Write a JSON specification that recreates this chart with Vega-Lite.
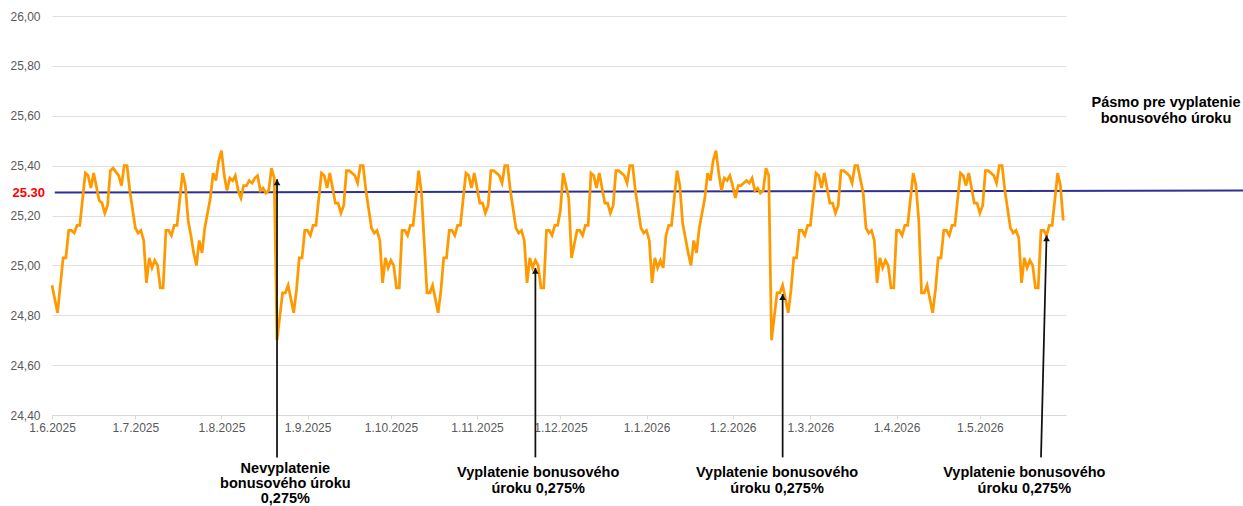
{
  "$schema": "https://vega.github.io/schema/vega-lite/v6.json",
  "width": 1014,
  "height": 399,
  "autosize": {"type": "none"},
  "padding": {"left": 52, "top": 16, "right": 177, "bottom": 91},
  "config": {
    "view": {"stroke": null},
    "locale": {"number": {"decimal": ",", "thousands": " ", "grouping": [3], "currency": ["", " €"]}}
  },
  "datasets": {
    "rate": [
      {"date": "2025-06-01", "value": 24.92}, {"date": "2025-06-03", "value": 24.81}, {"date": "2025-06-05", "value": 25.03}, {"date": "2025-06-06", "value": 25.03},
      {"date": "2025-06-07", "value": 25.14}, {"date": "2025-06-08", "value": 25.14}, {"date": "2025-06-09", "value": 25.13}, {"date": "2025-06-10", "value": 25.16},
      {"date": "2025-06-11", "value": 25.16}, {"date": "2025-06-13", "value": 25.37}, {"date": "2025-06-14", "value": 25.36}, {"date": "2025-06-15", "value": 25.31},
      {"date": "2025-06-16", "value": 25.37}, {"date": "2025-06-18", "value": 25.26}, {"date": "2025-06-19", "value": 25.25}, {"date": "2025-06-20", "value": 25.21},
      {"date": "2025-06-21", "value": 25.24}, {"date": "2025-06-22", "value": 25.38}, {"date": "2025-06-23", "value": 25.39}, {"date": "2025-06-25", "value": 25.36},
      {"date": "2025-06-26", "value": 25.32}, {"date": "2025-06-27", "value": 25.40}, {"date": "2025-06-28", "value": 25.40}, {"date": "2025-06-29", "value": 25.30},
      {"date": "2025-07-01", "value": 25.15}, {"date": "2025-07-02", "value": 25.13}, {"date": "2025-07-03", "value": 25.14}, {"date": "2025-07-04", "value": 25.10},
      {"date": "2025-07-05", "value": 24.93}, {"date": "2025-07-06", "value": 25.03}, {"date": "2025-07-07", "value": 24.99}, {"date": "2025-07-08", "value": 25.02},
      {"date": "2025-07-09", "value": 25.00}, {"date": "2025-07-10", "value": 24.91}, {"date": "2025-07-11", "value": 24.91}, {"date": "2025-07-12", "value": 25.14},
      {"date": "2025-07-13", "value": 25.14}, {"date": "2025-07-14", "value": 25.12}, {"date": "2025-07-15", "value": 25.16}, {"date": "2025-07-16", "value": 25.16},
      {"date": "2025-07-18", "value": 25.37}, {"date": "2025-07-19", "value": 25.32}, {"date": "2025-07-20", "value": 25.18}, {"date": "2025-07-21", "value": 25.12},
      {"date": "2025-07-22", "value": 25.05}, {"date": "2025-07-23", "value": 25.00}, {"date": "2025-07-24", "value": 25.10}, {"date": "2025-07-25", "value": 25.05},
      {"date": "2025-07-26", "value": 25.15}, {"date": "2025-07-28", "value": 25.27}, {"date": "2025-07-29", "value": 25.37}, {"date": "2025-07-30", "value": 25.34},
      {"date": "2025-07-31", "value": 25.42}, {"date": "2025-08-01", "value": 25.46}, {"date": "2025-08-02", "value": 25.36}, {"date": "2025-08-03", "value": 25.30},
      {"date": "2025-08-04", "value": 25.35}, {"date": "2025-08-05", "value": 25.34}, {"date": "2025-08-06", "value": 25.36}, {"date": "2025-08-07", "value": 25.30},
      {"date": "2025-08-08", "value": 25.27}, {"date": "2025-08-09", "value": 25.32}, {"date": "2025-08-10", "value": 25.32}, {"date": "2025-08-11", "value": 25.34},
      {"date": "2025-08-12", "value": 25.33}, {"date": "2025-08-13", "value": 25.35}, {"date": "2025-08-14", "value": 25.36}, {"date": "2025-08-15", "value": 25.30},
      {"date": "2025-08-16", "value": 25.31}, {"date": "2025-08-17", "value": 25.29}, {"date": "2025-08-18", "value": 25.30}, {"date": "2025-08-19", "value": 25.39},
      {"date": "2025-08-20", "value": 25.35}, {"date": "2025-08-21", "value": 24.70}, {"date": "2025-08-23", "value": 24.89}, {"date": "2025-08-24", "value": 24.89},
      {"date": "2025-08-25", "value": 24.92}, {"date": "2025-08-27", "value": 24.81}, {"date": "2025-08-28", "value": 24.90}, {"date": "2025-08-29", "value": 25.03},
      {"date": "2025-08-30", "value": 25.03}, {"date": "2025-08-31", "value": 25.14}, {"date": "2025-09-01", "value": 25.14}, {"date": "2025-09-02", "value": 25.12},
      {"date": "2025-09-03", "value": 25.16}, {"date": "2025-09-04", "value": 25.16}, {"date": "2025-09-06", "value": 25.37}, {"date": "2025-09-07", "value": 25.36},
      {"date": "2025-09-08", "value": 25.31}, {"date": "2025-09-09", "value": 25.37}, {"date": "2025-09-11", "value": 25.25}, {"date": "2025-09-12", "value": 25.25},
      {"date": "2025-09-13", "value": 25.21}, {"date": "2025-09-14", "value": 25.24}, {"date": "2025-09-15", "value": 25.38}, {"date": "2025-09-16", "value": 25.38},
      {"date": "2025-09-18", "value": 25.36}, {"date": "2025-09-19", "value": 25.33}, {"date": "2025-09-20", "value": 25.40}, {"date": "2025-09-21", "value": 25.40},
      {"date": "2025-09-22", "value": 25.30}, {"date": "2025-09-24", "value": 25.15}, {"date": "2025-09-25", "value": 25.13}, {"date": "2025-09-26", "value": 25.14},
      {"date": "2025-09-27", "value": 25.10}, {"date": "2025-09-28", "value": 24.93}, {"date": "2025-09-29", "value": 25.03}, {"date": "2025-09-30", "value": 24.99},
      {"date": "2025-10-01", "value": 25.02}, {"date": "2025-10-02", "value": 25.00}, {"date": "2025-10-03", "value": 24.91}, {"date": "2025-10-04", "value": 24.91},
      {"date": "2025-10-05", "value": 25.14}, {"date": "2025-10-06", "value": 25.14}, {"date": "2025-10-07", "value": 25.12}, {"date": "2025-10-08", "value": 25.16},
      {"date": "2025-10-09", "value": 25.16}, {"date": "2025-10-11", "value": 25.38}, {"date": "2025-10-12", "value": 25.29}, {"date": "2025-10-14", "value": 24.89},
      {"date": "2025-10-15", "value": 24.89}, {"date": "2025-10-16", "value": 24.92}, {"date": "2025-10-18", "value": 24.81}, {"date": "2025-10-19", "value": 24.90},
      {"date": "2025-10-20", "value": 25.03}, {"date": "2025-10-21", "value": 25.03}, {"date": "2025-10-22", "value": 25.14}, {"date": "2025-10-23", "value": 25.14},
      {"date": "2025-10-24", "value": 25.12}, {"date": "2025-10-25", "value": 25.16}, {"date": "2025-10-26", "value": 25.16}, {"date": "2025-10-28", "value": 25.37},
      {"date": "2025-10-29", "value": 25.36}, {"date": "2025-10-30", "value": 25.31}, {"date": "2025-10-31", "value": 25.37}, {"date": "2025-11-02", "value": 25.25},
      {"date": "2025-11-03", "value": 25.25}, {"date": "2025-11-04", "value": 25.21}, {"date": "2025-11-05", "value": 25.24}, {"date": "2025-11-06", "value": 25.38},
      {"date": "2025-11-07", "value": 25.38}, {"date": "2025-11-09", "value": 25.36}, {"date": "2025-11-10", "value": 25.33}, {"date": "2025-11-11", "value": 25.40},
      {"date": "2025-11-12", "value": 25.40}, {"date": "2025-11-13", "value": 25.30}, {"date": "2025-11-15", "value": 25.15}, {"date": "2025-11-16", "value": 25.13},
      {"date": "2025-11-17", "value": 25.14}, {"date": "2025-11-18", "value": 25.10}, {"date": "2025-11-19", "value": 24.93}, {"date": "2025-11-20", "value": 25.03},
      {"date": "2025-11-21", "value": 24.99}, {"date": "2025-11-22", "value": 25.02}, {"date": "2025-11-23", "value": 25.00}, {"date": "2025-11-24", "value": 24.91},
      {"date": "2025-11-25", "value": 24.91}, {"date": "2025-11-26", "value": 25.14}, {"date": "2025-11-27", "value": 25.14}, {"date": "2025-11-28", "value": 25.12},
      {"date": "2025-11-29", "value": 25.16}, {"date": "2025-11-30", "value": 25.16}, {"date": "2025-12-01", "value": 25.22}, {"date": "2025-12-02", "value": 25.37},
      {"date": "2025-12-04", "value": 25.27}, {"date": "2025-12-05", "value": 25.03}, {"date": "2025-12-07", "value": 25.14}, {"date": "2025-12-08", "value": 25.14},
      {"date": "2025-12-09", "value": 25.12}, {"date": "2025-12-10", "value": 25.16}, {"date": "2025-12-11", "value": 25.16}, {"date": "2025-12-12", "value": 25.37},
      {"date": "2025-12-13", "value": 25.36}, {"date": "2025-12-14", "value": 25.31}, {"date": "2025-12-15", "value": 25.37}, {"date": "2025-12-17", "value": 25.25},
      {"date": "2025-12-18", "value": 25.25}, {"date": "2025-12-19", "value": 25.21}, {"date": "2025-12-20", "value": 25.24}, {"date": "2025-12-21", "value": 25.38},
      {"date": "2025-12-22", "value": 25.38}, {"date": "2025-12-24", "value": 25.36}, {"date": "2025-12-25", "value": 25.33}, {"date": "2025-12-26", "value": 25.40},
      {"date": "2025-12-27", "value": 25.40}, {"date": "2025-12-28", "value": 25.30}, {"date": "2025-12-30", "value": 25.15}, {"date": "2025-12-31", "value": 25.13},
      {"date": "2026-01-01", "value": 25.14}, {"date": "2026-01-02", "value": 25.10}, {"date": "2026-01-03", "value": 24.93}, {"date": "2026-01-04", "value": 25.03},
      {"date": "2026-01-05", "value": 24.99}, {"date": "2026-01-06", "value": 25.02}, {"date": "2026-01-07", "value": 24.99}, {"date": "2026-01-08", "value": 25.12},
      {"date": "2026-01-09", "value": 25.16}, {"date": "2026-01-10", "value": 25.16}, {"date": "2026-01-12", "value": 25.38}, {"date": "2026-01-13", "value": 25.32},
      {"date": "2026-01-14", "value": 25.17}, {"date": "2026-01-16", "value": 25.05}, {"date": "2026-01-17", "value": 25.00}, {"date": "2026-01-18", "value": 25.10},
      {"date": "2026-01-19", "value": 25.05}, {"date": "2026-01-20", "value": 25.15}, {"date": "2026-01-22", "value": 25.27}, {"date": "2026-01-23", "value": 25.37},
      {"date": "2026-01-24", "value": 25.34}, {"date": "2026-01-25", "value": 25.42}, {"date": "2026-01-26", "value": 25.46}, {"date": "2026-01-27", "value": 25.37},
      {"date": "2026-01-28", "value": 25.30}, {"date": "2026-01-29", "value": 25.35}, {"date": "2026-01-30", "value": 25.34}, {"date": "2026-01-31", "value": 25.36},
      {"date": "2026-02-01", "value": 25.32}, {"date": "2026-02-02", "value": 25.27}, {"date": "2026-02-03", "value": 25.32}, {"date": "2026-02-04", "value": 25.32},
      {"date": "2026-02-05", "value": 25.33}, {"date": "2026-02-06", "value": 25.34}, {"date": "2026-02-07", "value": 25.33}, {"date": "2026-02-08", "value": 25.35},
      {"date": "2026-02-09", "value": 25.30}, {"date": "2026-02-10", "value": 25.31}, {"date": "2026-02-11", "value": 25.29}, {"date": "2026-02-12", "value": 25.30},
      {"date": "2026-02-13", "value": 25.39}, {"date": "2026-02-14", "value": 25.36}, {"date": "2026-02-15", "value": 24.70}, {"date": "2026-02-17", "value": 24.89},
      {"date": "2026-02-18", "value": 24.89}, {"date": "2026-02-19", "value": 24.92}, {"date": "2026-02-21", "value": 24.81}, {"date": "2026-02-22", "value": 24.90},
      {"date": "2026-02-23", "value": 25.03}, {"date": "2026-02-24", "value": 25.03}, {"date": "2026-02-25", "value": 25.14}, {"date": "2026-02-26", "value": 25.14},
      {"date": "2026-02-27", "value": 25.12}, {"date": "2026-02-28", "value": 25.16}, {"date": "2026-03-01", "value": 25.16}, {"date": "2026-03-03", "value": 25.37},
      {"date": "2026-03-04", "value": 25.36}, {"date": "2026-03-05", "value": 25.31}, {"date": "2026-03-06", "value": 25.37}, {"date": "2026-03-08", "value": 25.25},
      {"date": "2026-03-09", "value": 25.25}, {"date": "2026-03-10", "value": 25.21}, {"date": "2026-03-11", "value": 25.24}, {"date": "2026-03-12", "value": 25.38},
      {"date": "2026-03-13", "value": 25.38}, {"date": "2026-03-15", "value": 25.36}, {"date": "2026-03-16", "value": 25.33}, {"date": "2026-03-17", "value": 25.40},
      {"date": "2026-03-18", "value": 25.40}, {"date": "2026-03-20", "value": 25.29}, {"date": "2026-03-21", "value": 25.15}, {"date": "2026-03-22", "value": 25.13},
      {"date": "2026-03-23", "value": 25.14}, {"date": "2026-03-24", "value": 25.10}, {"date": "2026-03-25", "value": 24.93}, {"date": "2026-03-26", "value": 25.03},
      {"date": "2026-03-27", "value": 24.99}, {"date": "2026-03-28", "value": 25.02}, {"date": "2026-03-29", "value": 25.00}, {"date": "2026-03-30", "value": 24.91},
      {"date": "2026-03-31", "value": 24.91}, {"date": "2026-04-01", "value": 25.14}, {"date": "2026-04-02", "value": 25.14}, {"date": "2026-04-03", "value": 25.12},
      {"date": "2026-04-04", "value": 25.16}, {"date": "2026-04-05", "value": 25.16}, {"date": "2026-04-07", "value": 25.37}, {"date": "2026-04-08", "value": 25.32},
      {"date": "2026-04-09", "value": 25.18}, {"date": "2026-04-10", "value": 24.89}, {"date": "2026-04-11", "value": 24.89}, {"date": "2026-04-12", "value": 24.92},
      {"date": "2026-04-14", "value": 24.81}, {"date": "2026-04-15", "value": 24.90}, {"date": "2026-04-16", "value": 25.03}, {"date": "2026-04-17", "value": 25.03},
      {"date": "2026-04-18", "value": 25.14}, {"date": "2026-04-19", "value": 25.14}, {"date": "2026-04-20", "value": 25.12}, {"date": "2026-04-21", "value": 25.16},
      {"date": "2026-04-22", "value": 25.16}, {"date": "2026-04-24", "value": 25.37}, {"date": "2026-04-25", "value": 25.36}, {"date": "2026-04-26", "value": 25.32},
      {"date": "2026-04-27", "value": 25.37}, {"date": "2026-04-29", "value": 25.25}, {"date": "2026-04-30", "value": 25.25}, {"date": "2026-05-01", "value": 25.21},
      {"date": "2026-05-02", "value": 25.24}, {"date": "2026-05-03", "value": 25.38}, {"date": "2026-05-04", "value": 25.38}, {"date": "2026-05-06", "value": 25.36},
      {"date": "2026-05-07", "value": 25.33}, {"date": "2026-05-08", "value": 25.40}, {"date": "2026-05-09", "value": 25.40}, {"date": "2026-05-10", "value": 25.30},
      {"date": "2026-05-12", "value": 25.15}, {"date": "2026-05-13", "value": 25.13}, {"date": "2026-05-14", "value": 25.14}, {"date": "2026-05-15", "value": 25.11},
      {"date": "2026-05-16", "value": 24.93}, {"date": "2026-05-17", "value": 25.03}, {"date": "2026-05-18", "value": 24.99}, {"date": "2026-05-19", "value": 25.02},
      {"date": "2026-05-20", "value": 25.00}, {"date": "2026-05-21", "value": 24.91}, {"date": "2026-05-22", "value": 24.91}, {"date": "2026-05-23", "value": 25.14},
      {"date": "2026-05-24", "value": 25.14}, {"date": "2026-05-25", "value": 25.12}, {"date": "2026-05-26", "value": 25.16}, {"date": "2026-05-27", "value": 25.16},
      {"date": "2026-05-29", "value": 25.37}, {"date": "2026-05-30", "value": 25.32}, {"date": "2026-05-31", "value": 25.18}
    ],
    "band": [
      {"date": "2025-06-02", "value": 25.292},
      {"date": "2026-08-05", "value": 25.300}
    ],
    "bandLabel": [
      {"date": "2025-06-01", "value": 25.30, "label": "25.30"}
    ],
    "bandNote": [
      {"date": "2026-07-07", "value": 25.65, "label": "Pásmo pre vyplatenie\nbonusového úroku"}
    ],
    "arrows": [
      {"date": "2025-08-21", "value": 25.345, "base": "2025-08-21", "baseValue": 24.23},
      {"date": "2025-11-22", "value": 24.99, "base": "2025-11-22", "baseValue": 24.23},
      {"date": "2026-02-19", "value": 24.885, "base": "2026-02-19", "baseValue": 24.23},
      {"date": "2026-05-25", "value": 25.12, "base": "2026-05-23", "baseValue": 24.23}
    ],
    "noteMissed": [
      {"date": "2025-08-24", "value": 24.23, "label": "Nevyplatenie\nbonusového úroku\n0,275%"}
    ],
    "notesPaid": [
      {"date": "2025-11-23", "value": 24.23, "label": "Vyplatenie bonusového\núroku 0,275%"},
      {"date": "2026-02-17", "value": 24.23, "label": "Vyplatenie bonusového\núroku 0,275%"},
      {"date": "2026-05-17", "value": 24.23, "label": "Vyplatenie bonusového\núroku 0,275%"}
    ]
  },
  "encoding": {
    "x": {
      "field": "date",
      "type": "temporal",
      "scale": {
        "type": "utc",
        "domain": [
          {"year": 2025, "month": 6, "date": 1, "utc": true},
          {"year": 2026, "month": 6, "date": 1, "utc": true}
        ]
      },
      "axis": {
        "title": null,
        "values": [
          {"year": 2025, "month": 6, "date": 1, "utc": true},
          {"year": 2025, "month": 7, "date": 1, "utc": true},
          {"year": 2025, "month": 8, "date": 1, "utc": true},
          {"year": 2025, "month": 9, "date": 1, "utc": true},
          {"year": 2025, "month": 10, "date": 1, "utc": true},
          {"year": 2025, "month": 11, "date": 1, "utc": true},
          {"year": 2025, "month": 12, "date": 1, "utc": true},
          {"year": 2026, "month": 1, "date": 1, "utc": true},
          {"year": 2026, "month": 2, "date": 1, "utc": true},
          {"year": 2026, "month": 3, "date": 1, "utc": true},
          {"year": 2026, "month": 4, "date": 1, "utc": true},
          {"year": 2026, "month": 5, "date": 1, "utc": true}
        ],
        "labelExpr": "utcFormat(datum.value, '%-d.%-m.%Y')",
        "labelAlign": "center",
        "grid": false,
        "domainColor": "#d9d9d9",
        "tickColor": "#d9d9d9",
        "tickSize": 4,
        "labelPadding": 3,
        "labelColor": "#595959",
        "labelFont": "Liberation Sans",
        "labelFontSize": 12,
        "labelAngle": 0,
        "labelOverlap": false
      }
    },
    "y": {
      "field": "value",
      "type": "quantitative",
      "scale": {"domain": [24.4, 26.0], "zero": false, "nice": false},
      "axis": {
        "title": null,
        "values": [24.4, 24.6, 24.8, 25.0, 25.2, 25.4, 25.6, 25.8, 26.0],
        "format": ".2f",
        "domain": false,
        "ticks": false,
        "labelPadding": 12,
        "grid": true,
        "gridColor": "#e0e0e0",
        "gridWidth": 1,
        "labelColor": "#595959",
        "labelFont": "Liberation Sans",
        "labelFontSize": 12
      }
    }
  },
  "layer": [
    {
      "data": {"name": "band"},
      "mark": {"type": "line", "color": "#2e3192", "strokeWidth": 2, "clip": false}
    },
    {
      "data": {"name": "rate"},
      "mark": {"type": "line", "color": "#ff9900", "strokeWidth": 2.75}
    },
    {
      "data": {"name": "arrows"},
      "mark": {"type": "rule", "color": "#111111", "strokeWidth": 1.75, "clip": false},
      "encoding": {
        "x2": {"field": "base"},
        "y2": {"field": "baseValue"}
      }
    },
    {
      "data": {"name": "arrows"},
      "mark": {"type": "point", "shape": "triangle-up", "size": 45, "filled": true, "color": "#111111", "opacity": 1, "yOffset": 3, "clip": false}
    },
    {
      "data": {"name": "noteMissed"},
      "mark": {"type": "text", "font": "Liberation Sans", "fontSize": 14.5, "fontWeight": "bold", "color": "#000000", "align": "center", "baseline": "top", "lineBreak": "\n", "lineHeight": 15, "dy": 5, "clip": false},
      "encoding": {
        "text": {"field": "label"}
      }
    },
    {
      "data": {"name": "notesPaid"},
      "mark": {"type": "text", "font": "Liberation Sans", "fontSize": 14.5, "fontWeight": "bold", "color": "#000000", "align": "center", "baseline": "top", "lineBreak": "\n", "lineHeight": 16, "dy": 9, "clip": false},
      "encoding": {
        "text": {"field": "label"}
      }
    },
    {
      "data": {"name": "bandLabel"},
      "mark": {"type": "text", "font": "Liberation Sans", "fontSize": 13, "fontWeight": "bold", "color": "#ff0000", "align": "right", "baseline": "middle", "dx": -7, "dy": 2, "clip": false},
      "encoding": {
        "text": {"field": "label"}
      }
    },
    {
      "data": {"name": "bandNote"},
      "mark": {"type": "text", "font": "Liberation Sans", "fontSize": 14.5, "fontWeight": "bold", "color": "#000000", "align": "center", "baseline": "middle", "lineBreak": "\n", "lineHeight": 16, "clip": false},
      "encoding": {
        "text": {"field": "label"}
      }
    }
  ]
}
